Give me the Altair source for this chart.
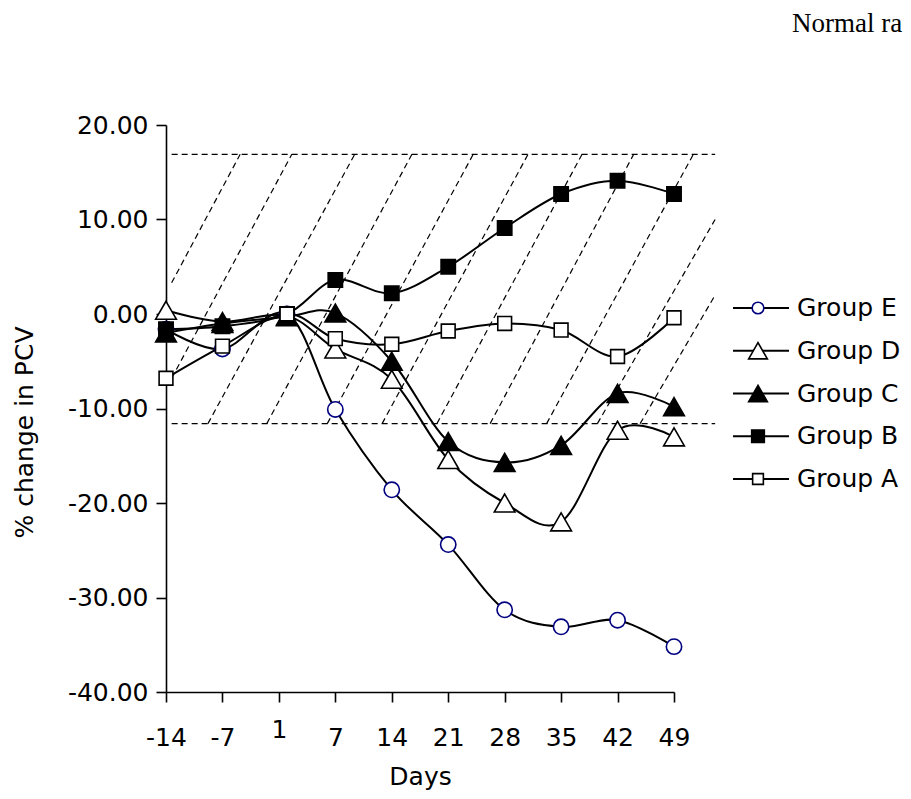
import altair as alt
import pandas as pd

# ---------------- data ----------------
days = [-14, -7, 1, 7, 14, 21, 28, 35, 42, 49]
groups = ["Group E", "Group D", "Group C", "Group B", "Group A"]
group_e = [-1.6, -3.7, 0.0, -10.1, -18.6, -24.4, -31.3, -33.1, -32.4, -35.2]
group_d = [0.4, -0.8, -0.2, -3.7, -6.9, -15.4, -20.0, -22.0, -12.3, -13.0]
group_c = [-2.0, -1.0, -0.3, 0.1, -5.0, -13.5, -15.7, -13.9, -8.4, -9.8]
group_b = [-1.6, -1.3, 0.0, 3.6, 2.2, 5.0, 9.1, 12.7, 14.1, 12.7]
group_a = [-6.8, -3.4, 0.0, -2.6, -3.2, -1.8, -1.0, -1.7, -4.5, -0.4]

x_ticks = [-14, -7, 0, 7, 14, 21, 28, 35, 42, 49]
y_ticks = [-40, -30, -20, -10, 0, 10, 20]

# normal range band (dashed box with diagonal dashed hatching)
range_y = [-11.6, 16.9]
range_x1 = [-13.3, -13.3]
range_x2 = [54.1, 54.1]
hatch_x1 = [-13.3, -13.3, -8.8, -1.5, 6.0, 12.8, 19.6, 26.2, 33.2, 39.5, 44.8]
hatch_y1 = [3.3, -6.8, -11.6, -11.6, -11.6, -11.6, -11.6, -11.6, -11.6, -11.6, -11.6]
hatch_x2 = [-4.8, 1.6, 9.4, 16.5, 24.1, 30.9, 37.6, 44.0, 51.4, 54.1, 54.1]
hatch_y2 = [16.9, 16.9, 16.9, 16.9, 16.9, 16.9, 16.9, 16.9, 16.9, 10.0, 2.0]

note_text = ["Normal range"]

# ---------------- tables ----------------
series = {"Group E": group_e, "Group D": group_d, "Group C": group_c,
          "Group B": group_b, "Group A": group_a}
rows = []
for g in groups:
    for d, v in zip(days, series[g]):
        rows.append({"group": g, "day": d, "value": v})
df = pd.DataFrame(rows)
hatch_df = pd.DataFrame({"x1": hatch_x1, "y1": hatch_y1, "x2": hatch_x2, "y2": hatch_y2})
range_df = pd.DataFrame({"x1": range_x1, "x2": range_x2, "y1": range_y})
leg_df = pd.DataFrame({"group": groups})
note_df = pd.DataFrame({"t": note_text})

MINUS = "\u2212"

# marker sizes (style, kept in code)
plot_size_expr = ("datum.group == 'Group E' ? 235 : (datum.group == 'Group D' || datum.group == 'Group C') ? 430 : "
                  "datum.group == 'Group B' ? 205 : 190")
leg_size_expr = ("datum.group == 'Group E' ? 135 : (datum.group == 'Group D' || datum.group == 'Group C') ? 350 : "
                 "datum.group == 'Group B' ? 160 : 115")

xs = alt.Scale(domain=[-14, 49], nice=False, zero=False)
ys = alt.Scale(domain=[-40, 20], nice=False, zero=False)
x_axis = alt.Axis(
    values=x_ticks, title="Days", grid=False, tickSize=10, labelFlush=False,
    labelOverlap=False, labelBaseline="alphabetic",
    labelPadding={"condition": {"test": "datum.value == 0", "value": 35}, "value": 43},
    labelExpr=f"datum.value == 0 ? '1' : replace(datum.label, '{MINUS}', '-')",
    titleY=92, titleBaseline="alphabetic",
)
y_axis = alt.Axis(
    values=y_ticks, title="% change in PCV", grid=False, tickSize=10, labelPadding=8,
    labelExpr=f"replace(format(datum.value, '.2f'), '{MINUS}', '-')",
    titleAngle=270, titleX=-134, titleY=307, titleBaseline="alphabetic", titleAlign="center",
)

shape_s = alt.Scale(domain=groups, range=["circle", "triangle-up", "triangle-up", "square", "square"])
fill_s = alt.Scale(domain=groups, range=["white", "white", "black", "black", "white"])
stroke_s = alt.Scale(domain=groups, range=["#000080", "black", "black", "black", "black"])

hatch = alt.Chart(hatch_df).mark_rule(color="black", strokeWidth=1.2, strokeDash=[6, 4]).encode(
    x=alt.X("x1:Q", scale=xs, axis=x_axis), x2="x2:Q",
    y=alt.Y("y1:Q", scale=ys, axis=y_axis), y2="y2:Q",
)
band = alt.Chart(range_df).mark_rule(color="black", strokeWidth=1.2, strokeDash=[6, 4]).encode(
    x=alt.X("x1:Q", scale=xs, axis=x_axis), x2="x2:Q",
    y=alt.Y("y1:Q", scale=ys, axis=y_axis),
)
lines = alt.Chart(df).mark_line(color="black", strokeWidth=2, interpolate="cardinal").encode(
    x=alt.X("day:Q", scale=xs, axis=x_axis),
    y=alt.Y("value:Q", scale=ys, axis=y_axis),
    detail="group:N",
)
points = alt.Chart(df).transform_calculate(msize=plot_size_expr).mark_point(
    filled=True, opacity=1, strokeWidth=1.6
).encode(
    x=alt.X("day:Q", scale=xs, axis=x_axis),
    y=alt.Y("value:Q", scale=ys, axis=y_axis),
    shape=alt.Shape("group:N", scale=shape_s, legend=None),
    fill=alt.Fill("group:N", scale=fill_s, legend=None),
    stroke=alt.Stroke("group:N", scale=stroke_s, legend=None),
    size=alt.Size("msize:Q", scale=None, legend=None),
)
note = alt.Chart(note_df).mark_text(
    align="left", baseline="alphabetic", font="Liberation Serif", fontSize=27, color="black",
    limit=112, ellipsis="\u200b",
).encode(x=alt.value(626), y=alt.value(-93), text="t:N")

main = alt.layer(hatch, band, lines, points, note)

leg_y = alt.Y("group:N", scale=alt.Scale(domain=groups, range=[183, 354], type="point", padding=0), axis=None)
leg_rule = alt.Chart(leg_df).mark_rule(color="black", strokeWidth=2).encode(
    x=alt.value(567), x2=alt.value(623), y=leg_y)
leg_pts = alt.Chart(leg_df).transform_calculate(msize=leg_size_expr).mark_point(
    filled=True, opacity=1, strokeWidth=1.6
).encode(
    x=alt.value(592), y=leg_y,
    shape=alt.Shape("group:N", scale=shape_s, legend=None),
    fill=alt.Fill("group:N", scale=fill_s, legend=None),
    stroke=alt.Stroke("group:N", scale=stroke_s, legend=None),
    size=alt.Size("msize:Q", scale=None, legend=None),
)
leg_txt = alt.Chart(leg_df).mark_text(
    align="left", baseline="middle", font="DejaVu Sans", fontSize=25, color="black"
).encode(x=alt.value(631), y=leg_y, text="group:N")
legend = alt.layer(leg_rule, leg_pts, leg_txt)

chart = alt.layer(main, legend).resolve_scale(y="independent").properties(
    width=508, height=567,
    autosize=alt.AutoSizeParams(type="none"),
    padding={"left": 158, "top": 117, "right": 229, "bottom": 98},
).configure_view(stroke=None).configure_axis(
    domainColor="black", domainWidth=1.6, tickColor="black", tickWidth=1.6,
    labelColor="black", titleColor="black", labelFont="DejaVu Sans", titleFont="DejaVu Sans",
    labelFontSize=25, titleFontSize=25, titleFontWeight="normal", grid=False,
)

chart.save("out.html", embed_options={"renderer": "svg", "actions": False})
